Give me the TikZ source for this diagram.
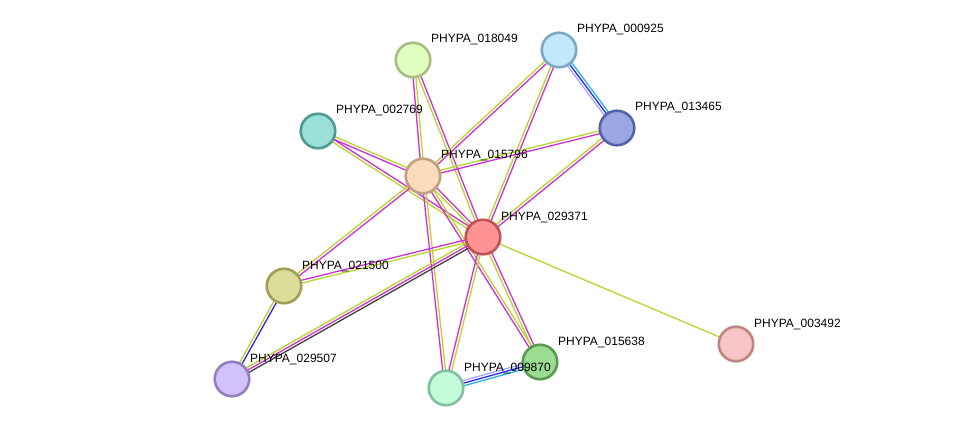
\documentclass[tikz,border=0pt]{standalone}
\usepackage{fontspec}
\setmainfont{Liberation Sans}
\usetikzlibrary{calc,backgrounds}
\definecolor{ey}{HTML}{B8D42E}
\definecolor{em}{HTML}{D02FD0}
\definecolor{eb}{HTML}{2A2AF0}
\definecolor{ec}{HTML}{2AB4D4}
\definecolor{el}{HTML}{A8A8F8}
\definecolor{ek}{HTML}{404040}
\definecolor{b018049}{HTML}{A6BE80}\definecolor{f018049}{HTML}{E2FFC2}
\definecolor{b000925}{HTML}{7EA8C2}\definecolor{f000925}{HTML}{C2E8FC}
\definecolor{b013465}{HTML}{5462A6}\definecolor{f013465}{HTML}{9CA6E0}
\definecolor{b002769}{HTML}{4E9A90}\definecolor{f002769}{HTML}{9AE0D6}
\definecolor{b015796}{HTML}{C0A080}\definecolor{f015796}{HTML}{FDDCBE}
\definecolor{b029371}{HTML}{C05252}\definecolor{f029371}{HTML}{FF9292}
\definecolor{b021500}{HTML}{A0A058}\definecolor{f021500}{HTML}{DEDC9A}
\definecolor{b029507}{HTML}{9080C0}\definecolor{f029507}{HTML}{D2C2FC}
\definecolor{b009870}{HTML}{80C0A0}\definecolor{f009870}{HTML}{C2FCDA}
\definecolor{b015638}{HTML}{5A9A50}\definecolor{f015638}{HTML}{9ADC92}
\definecolor{b003492}{HTML}{C08484}\definecolor{f003492}{HTML}{F8C6C6}
\newcommand\lnk[4]{\draw[edgeline,#4] ($(#1.center)!#3!90:(#2.center)$) -- ($(#2.center)!#3!-90:(#1.center)$);}
\tikzset{
  prot/.style={circle,minimum size=34.5pt,inner sep=0pt,line width=2.6pt,draw=b#1,fill=f#1},
  lbl/.style={anchor=west,inner sep=0pt,font=\fontsize{12}{14}\selectfont,text=black},
  edgeline/.style={line width=1.3pt}
}
\begin{document}
\begin{tikzpicture}[x=1pt,y=-1pt]
\useasboundingbox (0,0) rectangle (975,434);
\node[prot=018049] (n018049) at (413,60) {};
\node[prot=000925] (n000925) at (559,50) {};
\node[prot=013465] (n013465) at (617,128) {};
\node[prot=002769] (n002769) at (318,131) {};
\node[prot=015796] (n015796) at (423,176) {};
\node[prot=029371] (n029371) at (483,237) {};
\node[prot=021500] (n021500) at (284,286) {};
\node[prot=029507] (n029507) at (232,379) {};
\node[prot=009870] (n009870) at (446,388) {};
\node[prot=015638] (n015638) at (540,362) {};
\node[prot=003492] (n003492) at (736,344) {};
\begin{scope}[on background layer]
\lnk{n018049}{n015796}{1.4pt}{ey}\lnk{n018049}{n015796}{-1.4pt}{em}
\lnk{n018049}{n029371}{1.4pt}{em}\lnk{n018049}{n029371}{-1.4pt}{ey}
\lnk{n000925}{n015796}{1.4pt}{em}\lnk{n000925}{n015796}{-1.4pt}{ey}
\lnk{n000925}{n029371}{1.4pt}{em}\lnk{n000925}{n029371}{-1.4pt}{ey}
\lnk{n000925}{n013465}{2.6pt}{ec}\lnk{n000925}{n013465}{0pt}{eb}\lnk{n000925}{n013465}{-2.6pt}{el}
\lnk{n013465}{n015796}{1.4pt}{em}\lnk{n013465}{n015796}{-1.4pt}{ey}
\lnk{n013465}{n029371}{1.4pt}{em}\lnk{n013465}{n029371}{-1.4pt}{ey}
\lnk{n002769}{n015796}{1.4pt}{ey}\lnk{n002769}{n015796}{-1.4pt}{em}
\lnk{n002769}{n029371}{1.4pt}{em}\lnk{n002769}{n029371}{-1.4pt}{ey}
\lnk{n015796}{n029371}{1.4pt}{em}\lnk{n015796}{n029371}{-1.4pt}{ey}
\lnk{n015796}{n021500}{1.4pt}{em}\lnk{n015796}{n021500}{-1.4pt}{ey}
\lnk{n015796}{n009870}{1.4pt}{ey}\lnk{n015796}{n009870}{-1.4pt}{em}
\lnk{n015796}{n015638}{1.4pt}{ey}\lnk{n015796}{n015638}{-1.4pt}{em}
\lnk{n029371}{n021500}{1.4pt}{ey}\lnk{n029371}{n021500}{-1.4pt}{em}
\lnk{n029371}{n029507}{-2.6pt}{ey}\lnk{n029371}{n029507}{0pt}{em}\lnk{n029371}{n029507}{2.6pt}{ek}
\lnk{n029371}{n009870}{1.4pt}{ey}\lnk{n029371}{n009870}{-1.4pt}{em}
\lnk{n029371}{n015638}{1.4pt}{em}\lnk{n029371}{n015638}{-1.4pt}{ey}
\lnk{n029371}{n003492}{0pt}{ey}
\lnk{n021500}{n029507}{-1.4pt}{ey}\lnk{n021500}{n029507}{1.4pt}{eb}
\lnk{n009870}{n015638}{-2.6pt}{ec}\lnk{n009870}{n015638}{0pt}{eb}\lnk{n009870}{n015638}{2.6pt}{el}
\end{scope}
\foreach \n in {018049,000925,013465,002769,015796,029371,021500,029507,009870,015638,003492}
  \node[lbl] (t\n) at ($(n\n.center)+(18,-20)$) {PHYPA\_\n};
\end{tikzpicture}
\end{document}
